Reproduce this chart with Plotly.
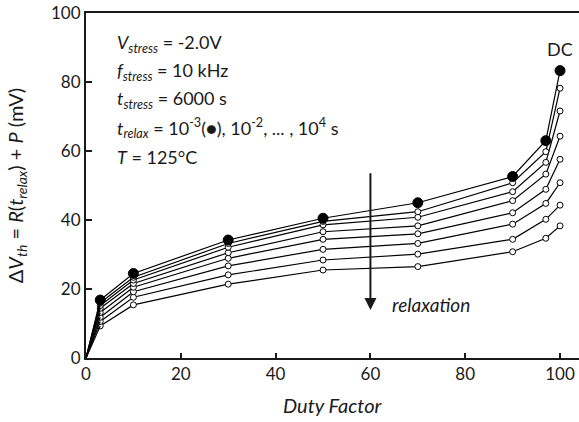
import plotly.graph_objects as go

# ---- data ----
duty_factor = [0, 3, 10, 30, 50, 70, 90, 97, 100]
relax_labels = ["1e-3", "1e-2", "1e-1", "1e0", "1e1", "1e2", "1e3", "1e4"]
dvth_1e_3 = [0, 16.8, 24.5, 34.2, 40.5, 45.0, 52.6, 63.0, 83.3]
dvth_1e_2 = [0, 16.0, 23.4, 33.2, 39.6, 42.4, 50.8, 59.8, 78.2]
dvth_1e_1 = [0, 15.2, 22.6, 32.1, 38.6, 40.8, 48.2, 56.7, 71.6]
dvth_1e0 = [0, 14.4, 21.6, 30.5, 36.6, 38.3, 45.6, 53.3, 64.3]
dvth_1e1 = [0, 13.2, 20.5, 28.9, 34.4, 36.0, 42.1, 48.9, 57.6]
dvth_1e2 = [0, 11.8, 19.2, 26.7, 31.5, 33.2, 38.8, 44.8, 50.8]
dvth_1e3 = [0, 10.6, 17.6, 24.1, 28.4, 30.1, 34.4, 40.2, 44.3]
dvth_1e4 = [0, 9.3, 15.4, 21.4, 25.5, 26.5, 30.8, 34.7, 38.3]
series = [dvth_1e_3, dvth_1e_2, dvth_1e_1, dvth_1e0, dvth_1e1, dvth_1e2, dvth_1e3, dvth_1e4]

x_ticks = [0, 20, 40, 60, 80, 100]
y_ticks = [0, 20, 40, 60, 80, 100]

FONT = "Lato"
INK = "#1a1a1a"

fig = go.Figure()
# draw open series first (bottom to top), filled on top
for i in range(len(series) - 1, -1, -1):
    vals = series[i]
    filled = (i == 0)
    fig.add_trace(go.Scatter(
        x=duty_factor[1:], y=vals[1:], mode="lines+markers",
        line=dict(color="black", width=1.2),
        marker=dict(size=10 if filled else 6,
                    color="black" if filled else "white",
                    line=dict(color="black", width=1)),
        showlegend=False, name=relax_labels[i]))
    # segment from origin (no marker)
    fig.add_trace(go.Scatter(
        x=duty_factor[:2], y=vals[:2], mode="lines",
        line=dict(color="black", width=1.2), showlegend=False))

fig.update_layout(
    width=579, height=422,
    margin=dict(l=86, r=0, t=13, b=64),
    paper_bgcolor="white", plot_bgcolor="white",
    font=dict(family=FONT, size=17, color=INK),
    xaxis=dict(range=[0, 104], tickvals=x_ticks, ticks="inside", ticklen=5,
               tickwidth=1.5, tickcolor=INK, showline=True, linecolor=INK,
               linewidth=2, mirror=True, showgrid=False, zeroline=False,
               tickfont=dict(size=17, color=INK)),
    yaxis=dict(range=[0, 100], tickvals=y_ticks, ticks="inside", ticklen=6,
               tickwidth=1.5, tickcolor=INK, showline=True, linecolor=INK,
               linewidth=2, mirror=False, showgrid=False, zeroline=False,
               tickfont=dict(size=17, color=INK)),
)

ann = []
info_lines = [
    "<i>V</i><sub><i>stress</i></sub> = -2.0V",
    "<i>f</i><sub><i>stress</i></sub> = 10 kHz",
    "<i>t</i><sub><i>stress</i></sub> = 6000 s",
    "<i>t</i><sub><i>relax</i></sub> = 10<sup>-3</sup>(●), 10<sup>-2</sup>, ... , 10<sup>4</sup> s",
    "<i>T</i> = 125°C",
]
info_y = [91.3, 82.9, 74.8, 66.7, 58.3]
for txt, yy in zip(info_lines, info_y):
    ann.append(dict(x=6.1, y=yy, xref="x", yref="y", text=txt, showarrow=False,
                    xanchor="left", yanchor="middle", font=dict(size=18, color=INK)))
ann.append(dict(x=100, y=89.5, xref="x", yref="y", text="DC", showarrow=False,
                xanchor="center", yanchor="middle", font=dict(size=18, color=INK)))
ann.append(dict(x=64.2, y=15.4, xref="x", yref="y", text="<i>relaxation</i>",
                showarrow=False, xanchor="left", yanchor="middle",
                font=dict(size=19, color=INK)))
ann.append(dict(x=60, y=13.9, ax=60, ay=54, xref="x", yref="y", axref="x", ayref="y",
                text="", showarrow=True, arrowhead=2, arrowsize=1.2, arrowwidth=2,
                arrowcolor=INK, standoff=0))
ann.append(dict(x=0.5, y=-0.136, xref="paper", yref="paper", text="<i>Duty Factor</i>",
                showarrow=False, xanchor="center", yanchor="middle",
                font=dict(size=20, color=INK)))
ann.append(dict(x=-0.1405, y=0.5, xref="paper", yref="paper",
                text="Δ<i>V</i><sub><i>th</i></sub> = <i>R</i>(<i>t</i><sub><i>relax</i></sub>) + <i>P</i> (mV)",
                showarrow=False, textangle=-90, xanchor="center", yanchor="middle",
                font=dict(size=20, color=INK)))
fig.update_layout(annotations=ann)

fig.write_html("out.html")
